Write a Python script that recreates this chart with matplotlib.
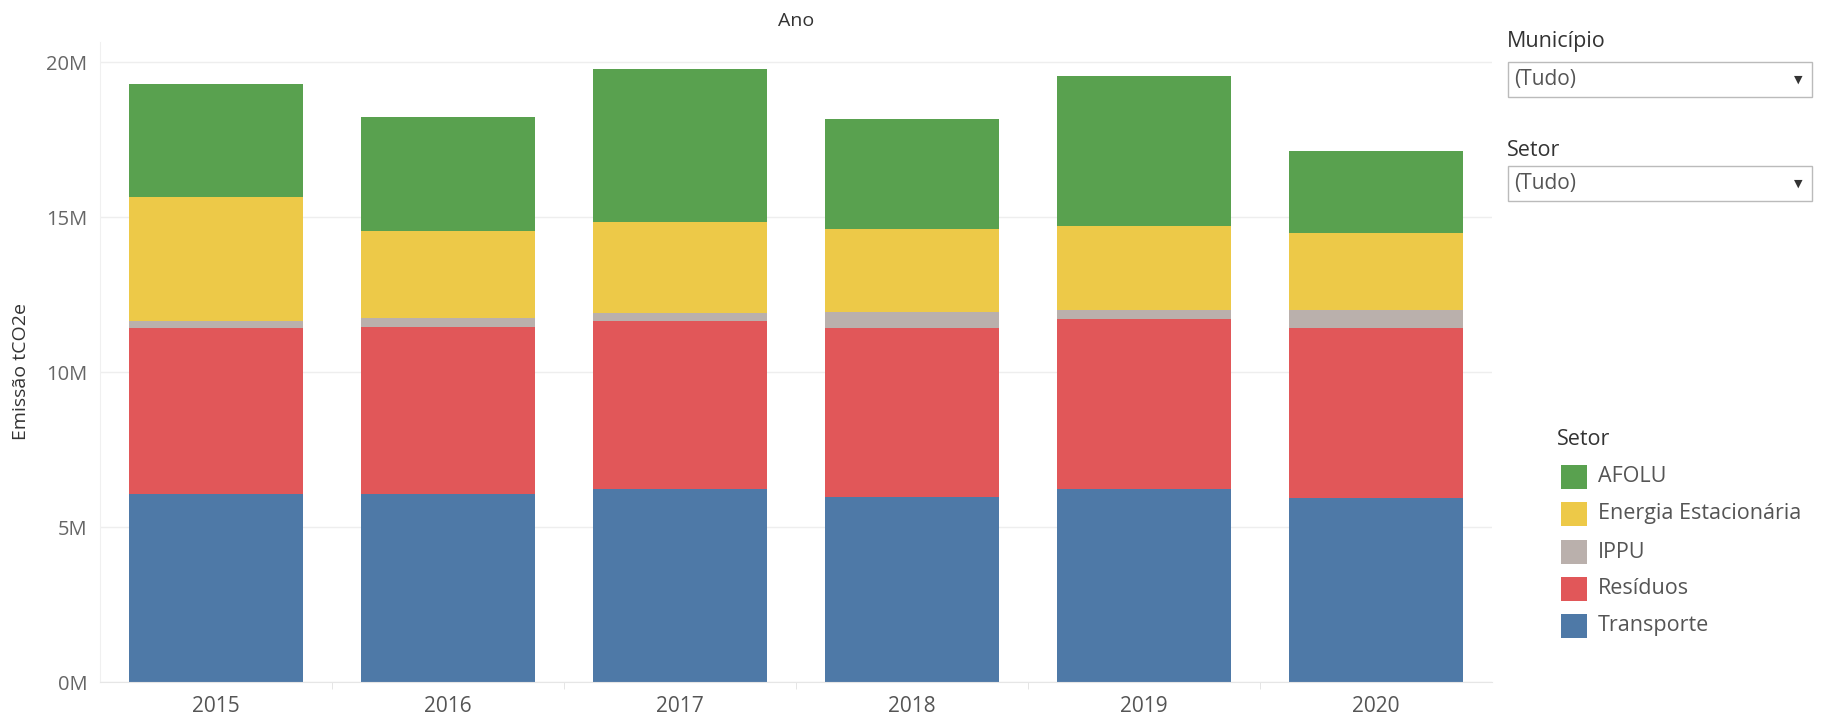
import numpy as np
import matplotlib.pyplot as plt
from matplotlib.patches import Rectangle
from matplotlib.ticker import FuncFormatter, FixedLocator

plt.rcParams['font.family'] = ['Open Sans', 'DejaVu Sans']

# Data (million tCO2e)
anos = ["2015", "2016", "2017", "2018", "2019", "2020"]
transporte = [6.06, 6.06, 6.23, 5.97, 6.23, 5.95]
residuos = [5.36, 5.39, 5.42, 5.45, 5.48, 5.47]
ippu = [0.23, 0.29, 0.25, 0.52, 0.29, 0.58]
energia = [4.00, 2.81, 2.94, 2.67, 2.71, 2.48]
afolu = [3.64, 3.68, 4.93, 3.55, 4.84, 2.65]

setores = ["Transporte", "Resíduos", "IPPU", "Energia Estacionária", "AFOLU"]
cores = ["#4E79A7", "#E15759", "#BAB0AC", "#EDC948", "#59A14F"]

W, H = 1822, 719
fig = plt.figure(figsize=(W / 100, H / 100), dpi=100)

def fx(x):
    return x / W

def fy(y):
    return 1 - y / H

ax = fig.add_axes([fx(100), fy(682), fx(1492) - fx(100), fy(42) - fy(682)])

x = np.arange(len(anos))
bottom = np.zeros(len(anos))
for nome, vals, cor in zip(setores, [transporte, residuos, ippu, energia, afolu], cores):
    v = np.array(vals) * 1e6
    ax.bar(x, v, 0.75, bottom=bottom, color=cor, label=nome, zorder=2)
    bottom += v

ax.set_xlim(-0.5, len(anos) - 0.5)
ax.set_ylim(0, 20.65e6)
ax.set_yticks([0, 5e6, 10e6, 15e6, 20e6])
ax.yaxis.set_major_formatter(FuncFormatter(lambda v, p: f"{v / 1e6:.0f}M"))
ax.set_xticks(x)
ax.set_xticklabels(anos)
ax.xaxis.set_minor_locator(FixedLocator(np.arange(0.5, len(anos) - 0.5, 1)))

ax.grid(axis="y", color="#eeeeee", linewidth=1, zorder=0)
for s in ["top", "right"]:
    ax.spines[s].set_visible(False)
ax.spines["left"].set_color("#f0f0f0")
ax.spines["bottom"].set_color("#e6e6e6")

ax.tick_params(axis="y", length=0, pad=9, labelsize=14.5, labelcolor="#666666")
ax.tick_params(axis="x", which="major", length=0, pad=10, labelsize=15, labelcolor="#555555")
ax.tick_params(axis="x", which="minor", length=5, color="#e0e0e0")

fig.text(fx(21), fy(372), "Emissão tCO2e", rotation=90, fontsize=14, color="#333333",
         ha="center", va="center")
fig.text(fx(796), fy(21), "Ano", fontsize=14, color="#333333", ha="center", va="center")

# filter widgets
def dropdown(label, y_label, y0, y1):
    fig.text(fx(1507), fy(y_label), label, fontsize=15.5, color="#333333", va="center", ha="left")
    fig.add_artist(Rectangle((fx(1508), fy(y1)), fx(1812) - fx(1508), fy(y0) - fy(y1),
                             transform=fig.transFigure, facecolor="white",
                             edgecolor="#bbbbbb", linewidth=1))
    yc = (y0 + y1) / 2
    fig.text(fx(1514), fy(yc), "(Tudo)", fontsize=15, color="#555555", va="center", ha="left")
    fig.text(fx(1798), fy(yc), "▼", fontsize=8, color="#333333", va="center", ha="center",
             family="DejaVu Sans")

dropdown("Município", 41, 62, 97)
dropdown("Setor", 151, 166, 201)

# legend (top to bottom: AFOLU ... Transporte)
fig.text(fx(1557), fy(440), "Setor", fontsize=15.5, color="#333333", ha="left", va="center")
leg_y = [477, 514, 552, 589, 626]
for yy, nome, cor in zip(leg_y, setores[::-1], cores[::-1]):
    fig.add_artist(Rectangle((fx(1561), fy(yy + 12)), fx(26), 24 / H,
                             transform=fig.transFigure, facecolor=cor, edgecolor="none"))
    fig.text(fx(1598), fy(yy), nome, fontsize=15.5, color="#555555", ha="left", va="center")

fig.savefig("out.png", dpi=100, facecolor="white")
